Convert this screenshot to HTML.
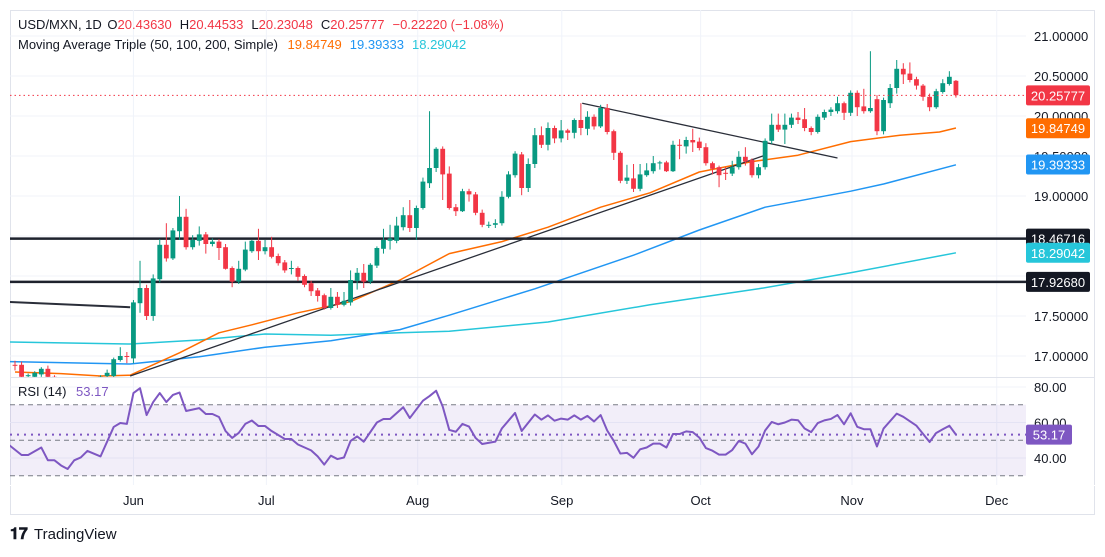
<!DOCTYPE html>
<html><head><meta charset="utf-8">
<style>
html,body{margin:0;padding:0;background:#fff;}
body{width:1105px;height:552px;overflow:hidden;font-family:"Liberation Sans",sans-serif;}
svg text{font-family:"Liberation Sans",sans-serif;}
</style></head>
<body>
<svg id="chart" width="1105" height="552" xmlns="http://www.w3.org/2000/svg">
  <defs>
    <clipPath id="mainClip"><rect x="10" y="10" width="1016" height="367"/></clipPath>
    <clipPath id="rsiClip"><rect x="10" y="378" width="1016" height="107"/></clipPath>
  </defs>
  <rect x="10.5" y="10.5" width="1084" height="504" fill="#fff" stroke="#e0e3eb"/>
  <g id="grid"></g>
  <g id="main" clip-path="url(#mainClip)"></g>
  <line x1="10" y1="377.5" x2="1095" y2="377.5" stroke="#e0e3eb"/>
  <g id="rsi" clip-path="url(#rsiClip)"></g>
  <g id="axis"></g>
  <g id="timeaxis"></g>
  <g font-size="13">
    <text x="18" y="29" fill="#131722">USD/MXN, 1D <tspan fill="#131722" dx="2">O</tspan><tspan fill="#f23645">20.43630</tspan><tspan fill="#131722" dx="8">H</tspan><tspan fill="#f23645">20.44533</tspan><tspan fill="#131722" dx="8">L</tspan><tspan fill="#f23645">20.23048</tspan><tspan fill="#131722" dx="8">C</tspan><tspan fill="#f23645">20.25777</tspan><tspan fill="#f23645" dx="8">−0.22220 (−1.08%)</tspan></text>
    <text x="18" y="49" fill="#131722">Moving Average Triple (50, 100, 200, Simple) <tspan fill="#ff6d00" dx="6">19.84749</tspan><tspan fill="#2196f3" dx="8">19.39333</tspan><tspan fill="#26c6da" dx="8">18.29042</tspan></text>
    <text x="18" y="396" fill="#131722">RSI (14) <tspan fill="#7e57c2" dx="6">53.17</tspan></text>
  </g>
  <g>
    <text x="10" y="539" font-size="16" font-weight="bold" fill="#131722">𝟏𝟕</text>
    <text x="34" y="539" font-size="15" fill="#131722">TradingView</text>
  </g>
</svg>
<script>
const opens = [
16.89,16.89,16.75,16.74,16.77,16.84,16.74,16.70,16.66,16.62,
16.64,16.60,16.63,16.68,16.75,16.75,16.95,17.00,16.97,17.66,
17.85,17.50,17.96,18.39,18.22,18.56,18.74,18.36,18.44,18.52,
18.40,18.43,18.36,18.10,17.93,18.08,18.31,18.44,18.31,18.36,
18.25,18.17,18.10,18.10,18.00,17.91,17.82,17.76,17.60,17.74,
17.64,17.67,17.94,18.04,17.93,18.13,18.34,18.44,18.44,18.61,
18.76,18.60,18.85,19.16,19.35,19.59,19.28,18.86,18.81,19.06,
19.02,18.79,18.64,18.64,18.66,18.99,19.26,19.52,19.10,19.40,
19.76,19.64,19.85,19.72,19.82,19.79,19.95,19.84,19.99,19.87,
20.10,19.81,19.54,19.19,19.22,19.09,19.26,19.31,19.41,19.42,
19.31,19.64,19.62,19.70,19.68,19.61,19.41,19.36,19.29,19.28,
19.36,19.49,19.45,19.26,19.36,19.69,19.89,19.83,19.89,19.98,
19.96,19.85,19.80,19.98,20.05,20.06,20.16,20.04,20.29,20.12,
20.06,20.21,19.81,20.16,20.35,20.59,20.53,20.46,20.38,20.24,
20.11,20.30,20.40,20.44];
const highs = [
16.94,16.93,16.78,16.81,16.86,16.88,16.76,16.72,16.68,16.66,
16.66,16.65,16.70,16.76,16.83,16.98,17.11,17.05,17.70,18.19,
17.89,18.02,18.46,18.66,18.60,19.00,18.84,18.51,18.62,18.55,
18.47,18.46,18.40,18.12,18.19,18.43,18.45,18.59,18.45,18.49,
18.28,18.20,18.19,18.12,18.02,17.94,17.85,17.78,17.85,17.80,
17.80,18.07,18.10,18.15,18.16,18.37,18.59,18.64,18.74,18.86,
18.95,18.88,19.23,20.06,19.61,19.62,19.37,18.90,19.09,19.09,
19.05,18.83,18.68,18.71,19.06,19.31,19.56,19.55,19.47,19.85,
19.87,19.92,19.88,19.95,19.84,19.97,20.16,20.06,20.02,20.14,
20.15,19.83,19.56,19.39,19.40,19.40,19.41,19.50,19.44,19.44,
19.69,19.71,19.74,19.84,19.73,19.66,19.43,19.38,19.36,19.44,
19.56,19.61,19.47,19.40,19.72,20.03,20.03,20.03,20.03,20.05,
20.10,19.87,20.02,20.08,20.11,20.24,20.18,20.32,20.32,20.34,
20.81,20.26,20.23,20.40,20.70,20.66,20.67,20.49,20.40,20.28,
20.34,20.46,20.56,20.45];
const lows = [
16.82,16.70,16.72,16.72,16.74,16.70,16.66,16.62,16.58,16.58,
16.56,16.57,16.60,16.66,16.73,16.73,16.93,16.91,16.91,17.54,
17.45,17.44,17.92,18.18,18.20,18.45,18.33,18.33,18.38,18.28,
18.37,18.20,18.08,17.86,17.90,18.06,18.29,18.20,18.27,18.22,
18.13,18.04,18.02,17.94,17.86,17.75,17.68,17.58,17.58,17.60,
17.62,17.63,17.83,17.85,17.90,18.10,18.28,18.33,18.41,18.57,
18.55,18.45,18.83,19.10,19.30,18.95,18.83,18.75,18.80,18.93,
18.76,18.61,18.60,18.60,18.63,18.97,19.23,19.01,19.05,19.35,
19.60,19.57,19.66,19.67,19.70,19.72,19.76,19.76,19.83,19.85,
19.77,19.45,19.16,19.15,19.05,19.06,19.24,19.28,19.33,19.30,
19.30,19.46,19.53,19.55,19.57,19.38,19.27,19.11,19.20,19.25,
19.33,19.38,19.23,19.22,19.33,19.65,19.80,19.65,19.85,19.90,
19.81,19.76,19.78,19.95,20.00,20.03,19.95,20.00,20.00,20.03,
20.04,19.76,19.77,20.10,20.28,20.40,20.42,20.33,20.19,20.06,
20.09,20.28,20.38,20.23];
const closes = [
16.88,16.74,16.76,16.79,16.84,16.74,16.70,16.66,16.62,16.64,
16.60,16.63,16.68,16.74,16.79,16.96,17.00,16.99,17.67,17.85,
17.50,17.97,18.39,18.22,18.57,18.74,18.36,18.45,18.52,18.40,
18.43,18.35,18.09,17.93,18.09,18.33,18.44,18.31,18.36,18.24,
18.16,18.07,18.10,17.99,17.89,17.81,17.75,17.60,17.74,17.64,
17.69,17.95,18.04,17.93,18.14,18.35,18.45,18.47,18.63,18.76,
18.60,18.85,19.18,19.35,19.59,19.27,18.85,18.81,19.06,19.02,
18.79,18.64,18.64,18.66,18.99,19.27,19.53,19.10,19.40,19.76,
19.64,19.85,19.72,19.82,19.79,19.95,19.85,19.99,19.87,20.10,
19.80,19.54,19.19,19.23,19.09,19.27,19.32,19.41,19.42,19.31,
19.64,19.63,19.70,19.67,19.60,19.41,19.34,19.26,19.28,19.36,
19.49,19.43,19.26,19.36,19.69,19.89,19.83,19.89,19.98,19.95,
19.85,19.80,19.99,20.05,20.08,20.16,20.04,20.29,20.11,20.06,
20.10,19.81,20.20,20.35,20.59,20.52,20.45,20.38,20.24,20.11,
20.31,20.41,20.49,20.26];
const ma50Idx = [0,7,13,17.5,25,31,36,43,51,58.5,66,74,81,89,96.5,104,112,119,127,134.5,140.5,143];
const ma50Val = [16.80,16.78,16.75,16.76,17.04,17.29,17.39,17.54,17.68,17.95,18.28,18.43,18.61,18.86,19.04,19.30,19.43,19.51,19.68,19.76,19.80,19.85];
const ma100Idx = [-1,17.5,28,38,48,58.5,66,79,94,104,114,127,132,143];
const ma100Val = [16.93,16.90,16.99,17.11,17.19,17.33,17.51,17.84,18.26,18.575,18.86,19.06,19.15,19.39];
const ma200Idx = [-1,17.5,28,38,48,58.5,66,81,96.5,113,127,143];
const ma200Val = [17.175,17.15,17.20,17.275,17.26,17.29,17.31,17.425,17.64,17.84,18.04,18.29];
const rsiIdx = [-1,1,2,4,5,6,7,8,9,10,11,13,15,16,17,18,19,20,21,22,23,24,25,26,28,29,30,31,32,33,34,35,36,37,38,39,41,42,43,45,46,47,48,49,50,51,52,53,55,56,57,59,60,62,63,64,65,66,67,68,69,70,71,73,74,76,77,79,80,81,82,83,84,85,86,87,88,89,90,91,92,93,94,95,96,97,98,99,100,101,102,103,104,105,106,107,108,109,110,111,112,113,114,115,116,117,118,119,120,121,122,123,124,125,126,127,128,129,130,131,132,134,135,137,139,140,141,142,143];
const rsiVal = [47.6,41.7,41.7,45.9,38.7,38.7,35.8,33.8,38.7,40.3,44,40.9,57.5,59.7,59.2,76.6,79.3,64.2,71.5,76.6,71.5,75.5,76.9,66.5,68.1,64.8,64.8,63.1,55.2,51.3,54.1,59.2,61.1,58,58,55.2,50.7,50.7,47.6,44.3,40.9,36.3,41.3,39.4,40.3,49.6,52.2,49.2,60,62,62,68.6,62.5,72.3,74.9,77.9,69,55.8,54.8,59.2,57.7,51.3,47.9,49.2,56.7,65.4,55.2,64.5,61.6,64,61,62.2,61.6,64,61.6,63.7,60.6,64.2,55.5,49.6,42.5,42.9,40.1,44.9,45.9,48.1,48.1,45.9,53.5,53.5,55,54.6,51.5,45.6,44.1,41.9,41.9,44.5,49.6,48.1,42.1,46.5,55.5,60.3,59,60,61.6,61.3,56.6,54.6,59.7,61.2,62,64.2,59,65.2,57.6,56.2,56.2,46.5,56.6,65,63.2,58.2,49,54.1,56.2,58.2,53.17];
const priceTicks = [21.0,20.5,20.0,19.5,19.0,18.5,18.0,17.5,17.0];
const priceTickLabels = ["21.00000","20.50000","20.00000","19.50000","19.00000","18.50000","18.00000","17.50000","17.00000"];
const rsiTicks = [80,60,40];
const rsiTickLabels = ["80.00","60.00","40.00"];
const monthLabels = ["Jun","Jul","Aug","Sep","Oct","Nov","Dec"];
const monthIdx = [18,38.2,61.2,83.1,104.2,127.2,149.2];
const hLevels = [18.46716,17.92680];
const trendUp = [[17.5,16.75],[114,19.51]];
const trendDown = [[86.2,20.16],[125,19.475]];
const trendLeft = [[-0.8,17.675],[17.5,17.61]];
const lastPrice = 20.25777;
const badgeVals = [20.25777,19.84749,19.39333,18.46716,18.29042,17.92680];
const badgeColors = ["#f23645","#ff6d00","#2196f3","#131722","#26c6da","#131722"];

const NS = "http://www.w3.org/2000/svg";
const xOf = i => 15 + i*6.58;
const yP = p => 36 + (21-p)*80;
const yR = v => 387 + (80-v)*1.775;
function mk(tag, attrs, parent){ const e=document.createElementNS(NS,tag); for(const k in attrs) e.setAttribute(k,attrs[k]); parent.appendChild(e); return e; }
const grid=document.getElementById('grid'), main=document.getElementById('main'), rsi=document.getElementById('rsi'), axis=document.getElementById('axis'), taxis=document.getElementById('timeaxis');

priceTicks.forEach((p,k)=>{
  const l=mk('line',{x1:10,x2:1026,y1:yP(p),y2:yP(p),stroke:'#f0f3fa'},grid);
  
  
  const t=mk('text',{x:1034,y:yP(p)+5,'font-size':13,fill:'#131722'},axis);
  t.textContent=priceTickLabels[k];
  
  
});
rsiTicks.forEach((v,k)=>{
  const l=mk('line',{x1:10,x2:1026,y1:yR(v),y2:yR(v),stroke:'#f0f3fa'},grid);
  
  
  const t=mk('text',{x:1034,y:yR(v)+5,'font-size':13,fill:'#131722'},axis);
  t.textContent=rsiTickLabels[k];
  
  
});
monthLabels.forEach((m,k)=>{
  const x=xOf(monthIdx[k]);
  const l=mk('line',{x1:x,x2:x,y1:10,y2:485,stroke:'#f0f3fa'},grid);
  
  
  const t=mk('text',{x:x,y:505,'font-size':13,fill:'#131722','text-anchor':'middle'},taxis);
  t.textContent=m;
  
  
});

// MA lines
function poly(idx,val,color,name,parent,sw){
  const pts=idx.map((i,k)=>xOf(i)+','+yP(val[k])).join(' ');
  const p=mk('polyline',{points:pts,fill:'none',stroke:color,'stroke-width':sw||1.5,'stroke-linejoin':'round'},parent);
  
  
}
poly(ma200Idx,ma200Val,'#26c6da','ma200-line',main);
poly(ma100Idx,ma100Val,'#2196f3','ma100-line',main);
poly(ma50Idx,ma50Val,'#ff6d00','ma50-line',main);

// horizontal levels
hLevels.forEach(v=>{
  const l=mk('line',{x1:10,x2:1026,y1:yP(v),y2:yP(v),stroke:'#1e222d','stroke-width':2.5},main);
  
  
});
[trendUp,trendDown,trendLeft].forEach((t,k)=>{
  const l=mk('line',{x1:xOf(t[0][0]),y1:yP(t[0][1]),x2:xOf(t[1][0]),y2:yP(t[1][1]),stroke:'#2a2e39','stroke-width':k==2?2:1.3},main);
  
  
});

// candles
closes.forEach((c,i)=>{
  const o=opens[i], up=c>=o, col=up?'#089981':'#f23645', x=xOf(i);
  const w=mk('line',{x1:x,x2:x,y1:yP(highs[i]),y2:yP(lows[i]),stroke:col,'stroke-width':1},main);
  
  
  const top=yP(Math.max(o,c)), bot=yP(Math.min(o,c));
  const b=mk('rect',{x:x-2.4,y:top,width:4.8,height:Math.max(1,bot-top),fill:col},main);
  
  
});

// last price line
const lp=mk('line',{x1:10,x2:1026,y1:yP(lastPrice),y2:yP(lastPrice),stroke:'#f23645','stroke-dasharray':'1.5 3'},main);



// badges
badgeVals.forEach((v,k)=>{
  const y=yP(v);
  const r=mk('rect',{x:1026,y:y-10,width:64,height:20,rx:2,fill:badgeColors[k]},axis);
  
  
  const t=mk('text',{x:1058,y:y+5,'font-size':13,fill:'#fff','text-anchor':'middle'},axis);
  t.textContent=v.toFixed(5);
  
  
});

// RSI
const band=mk('rect',{x:10,y:yR(70),width:1016,height:yR(30)-yR(70),fill:'rgba(126,87,194,0.1)'},rsi);


[70,50,30].forEach(v=>{
  const l=mk('line',{x1:10,x2:1026,y1:yR(v),y2:yR(v),stroke:'#787b86','stroke-dasharray':'5 4'},rsi);
  
  
});
const cur=mk('line',{x1:10,x2:1026,y1:yR(rsiVal[rsiVal.length-1]),y2:yR(rsiVal[rsiVal.length-1]),stroke:'#7e57c2','stroke-width':2,'stroke-dasharray':'2 5'},rsi);


const rp=mk('polyline',{points:rsiIdx.map((i,k)=>xOf(i)+','+yR(rsiVal[k])).join(' '),fill:'none',stroke:'#7e57c2','stroke-width':2,'stroke-linejoin':'round'},rsi);


const rv=rsiVal[rsiVal.length-1];
const rb=mk('rect',{x:1026,y:yR(rv)-10,width:46,height:20,rx:2,fill:'#7e57c2'},axis);


const rt=mk('text',{x:1049,y:yR(rv)+5,'font-size':13,fill:'#fff','text-anchor':'middle'},axis);
rt.textContent=rv.toFixed(2);


const sep=mk('line',{x1:10,x2:1095,y1:485.5,y2:485.5,stroke:'#ffffff'},taxis);


</script>
</body></html>
